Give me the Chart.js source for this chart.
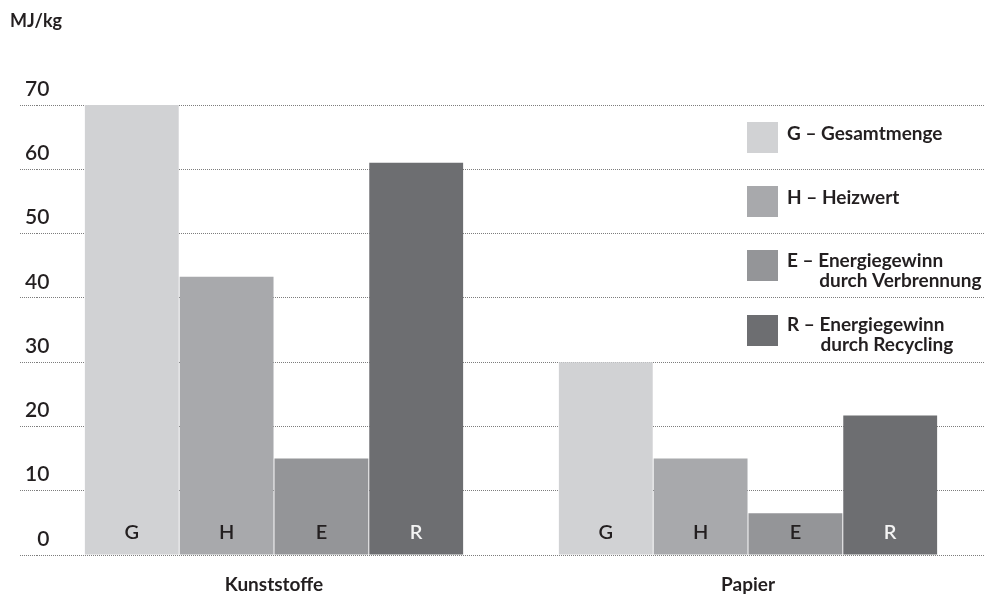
<!DOCTYPE html>
<html lang="de">
<head>
<meta charset="utf-8">
<title>Energiegewinn – Kunststoffe und Papier</title>
<script src="https://cdn.jsdelivr.net/npm/chart.js@4/dist/chart.umd.min.js"></script>
<style>
  html, body { margin: 0; padding: 0; background: #ffffff; }
  #wrap { position: relative; width: 986px; height: 598px; }
</style>
</head>
<body>
<div id="wrap"><canvas id="chart" width="986" height="598"></canvas></div>
<script>
// Materialgruppen (x-Achse)
const categories = ['Kunststoffe', 'Papier'];

// Werte in MJ/kg je Materialgruppe
const gesamtmenge = [70, 30];
const heizwert = [43.3, 15];
const verbrennung = [15, 6.5];
const recycling = [61, 21.7];

// Kurzzeichen und Legendentexte der vier Reihen
const seriesCodes = ['G', 'H', 'E', 'R'];
const seriesNames = [
  ['Gesamtmenge'],
  ['Heizwert'],
  ['Energiegewinn', 'durch Verbrennung'],
  ['Energiegewinn', 'durch Recycling']
];
const seriesColors = ['#d1d2d4', '#a8a9ac', '#949598', '#6d6e71'];
const codeColors = ['#231f20', '#231f20', '#231f20', '#f4f4f4'];

// Achsenbeschriftung
const unitLabel = 'MJ/kg';
const yTicks = [0, 10, 20, 30, 40, 50, 60, 70];
// Legendenfelder liegen zwischen den Gitterlinien
const legendSlots = [65, 55, 45, 35];

const FONT = 'Lato, "Open Sans", sans-serif';
const TEXT = '#231f20';
const GRID = '#7d7d7d';

const seriesValues = [gesamtmenge, heizwert, verbrennung, recycling];

const datasets = seriesValues.map((values, i) => ({
  label: seriesCodes[i] + ' – ' + seriesNames[i].join(' '),
  data: values,
  backgroundColor: seriesColors[i],
  borderWidth: 0,
  barPercentage: 0.99,
  categoryPercentage: 0.8
}));

// Einheit oben links
const unitPlugin = {
  id: 'unitLabel',
  afterDraw(chart) {
    const ctx = chart.ctx;
    ctx.save();
    ctx.font = '700 18px ' + FONT;
    ctx.fillStyle = TEXT;
    ctx.textAlign = 'left';
    ctx.textBaseline = 'alphabetic';
    ctx.fillText(unitLabel, 10, 27);
    ctx.restore();
  }
};

// Kurzzeichen unten in jedem Balken
const codePlugin = {
  id: 'barCodes',
  afterDatasetsDraw(chart) {
    const ctx = chart.ctx;
    ctx.save();
    ctx.font = '600 20px ' + FONT;
    ctx.textAlign = 'center';
    ctx.textBaseline = 'alphabetic';
    chart.data.datasets.forEach((ds, i) => {
      const meta = chart.getDatasetMeta(i);
      meta.data.forEach(bar => {
        ctx.fillStyle = codeColors[i];
        ctx.fillText(seriesCodes[i], bar.x, bar.base - 16);
      });
    });
    ctx.restore();
  }
};

// Legende rechts im Diagramm
const legendPlugin = {
  id: 'sideLegend',
  afterDatasetsDraw(chart) {
    const ctx = chart.ctx;
    const y = chart.scales.y;
    const area = chart.chartArea;
    const boxX = area.right - 238;
    const box = 31;
    const textX = boxX + 40;
    ctx.save();
    ctx.font = '700 19px ' + FONT;
    ctx.textAlign = 'left';
    ctx.textBaseline = 'alphabetic';
    seriesCodes.forEach((code, i) => {
      const mid = y.getPixelForValue(legendSlots[i]);
      ctx.fillStyle = seriesColors[i];
      ctx.fillRect(boxX, Math.round(mid - 15.5), box, box);
      ctx.fillStyle = TEXT;
      const lines = seriesNames[i];
      const prefix = code + ' – ';
      const indent = ctx.measureText(prefix).width;
      if (lines.length === 1) {
        ctx.fillText(prefix + lines[0], textX, mid + 3);
      } else {
        ctx.fillText(prefix + lines[0], textX, mid + 1);
        ctx.fillText(lines[1], textX + indent + 1, mid + 21);
      }
    });
    ctx.restore();
  }
};

new Chart(document.getElementById('chart'), {
  type: 'bar',
  data: { labels: categories, datasets },
  options: {
    responsive: false,
    animation: false,
    layout: { padding: { left: 0, right: 1, top: 105, bottom: 0 } },
    plugins: {
      legend: { display: false },
      tooltip: { enabled: false },
      title: { display: false }
    },
    scales: {
      x: {
        afterFit(scale) { scale.height = 43; },
        grid: { display: false, drawTicks: false },
        border: { display: false },
        ticks: {
          color: TEXT,
          padding: 18,
          font: { family: FONT, size: 19, weight: '700' }
        }
      },
      y: {
        min: 0,
        max: 70,
        afterFit(scale) { scale.width = 37; },
        afterBuildTicks(scale) {
          scale.ticks = yTicks.map(v => ({ value: v }));
        },
        grid: {
          color: GRID,
          lineWidth: 1,
          drawTicks: true,
          tickLength: 17,
          tickBorderDash: [1, 1]
        },
        border: { display: false, dash: [1, 1] },
        ticks: {
          mirror: true,
          crossAlign: 'far',
          padding: -12,
          labelOffset: -16,
          color: TEXT,
          font: { family: FONT, size: 21, weight: '600' }
        }
      }
    }
  },
  plugins: [unitPlugin, codePlugin, legendPlugin]
});
</script>
</body>
</html>
